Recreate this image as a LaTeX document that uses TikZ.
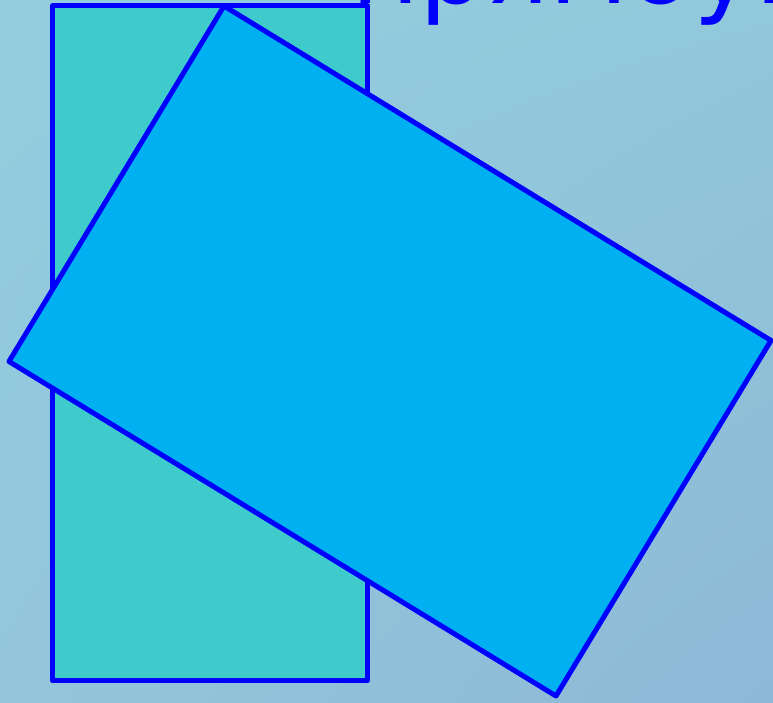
\documentclass[tikz,border=0pt]{standalone}
\usepackage{fontspec}
\usetikzlibrary{shadings}
\newfontfamily\dejavu{DejaVu Sans}
\definecolor{bgA}{RGB}{148,204,221}
\definecolor{bgB}{RGB}{146,200,219}
\definecolor{bgC}{RGB}{147,198,220}
\definecolor{bgD}{RGB}{141,185,214}
\definecolor{tealfill}{RGB}{63,203,203}
\definecolor{skyfill}{RGB}{0,176,240}
\definecolor{edgeblue}{RGB}{0,0,255}
\tikzset{
  shapeedge/.style={draw=edgeblue, line width=5pt, line join=round},
  titletext/.style={anchor=base west, inner sep=0pt, text=edgeblue,
    font=\dejavu\fontsize{105}{126}\selectfont}
}
\begin{document}
\begin{tikzpicture}[x=1pt,y=1pt]
\useasboundingbox (0,0) rectangle (773,703);
\clip (0,0) rectangle (773,703);
\shade[upper left=bgA, upper right=bgB, lower left=bgC, lower right=bgD]
  (0,0) rectangle (773,703);
\node[titletext] (title) at (351,699) {прямоуг};
\filldraw[shapeedge, fill=tealfill] (52.5,697) rectangle (367.5,22.5);
\filldraw[shapeedge, fill=skyfill] (224,697) -- (771,362.5) -- (556,7) -- (9,341.5) -- cycle;
\end{tikzpicture}
\end{document}
